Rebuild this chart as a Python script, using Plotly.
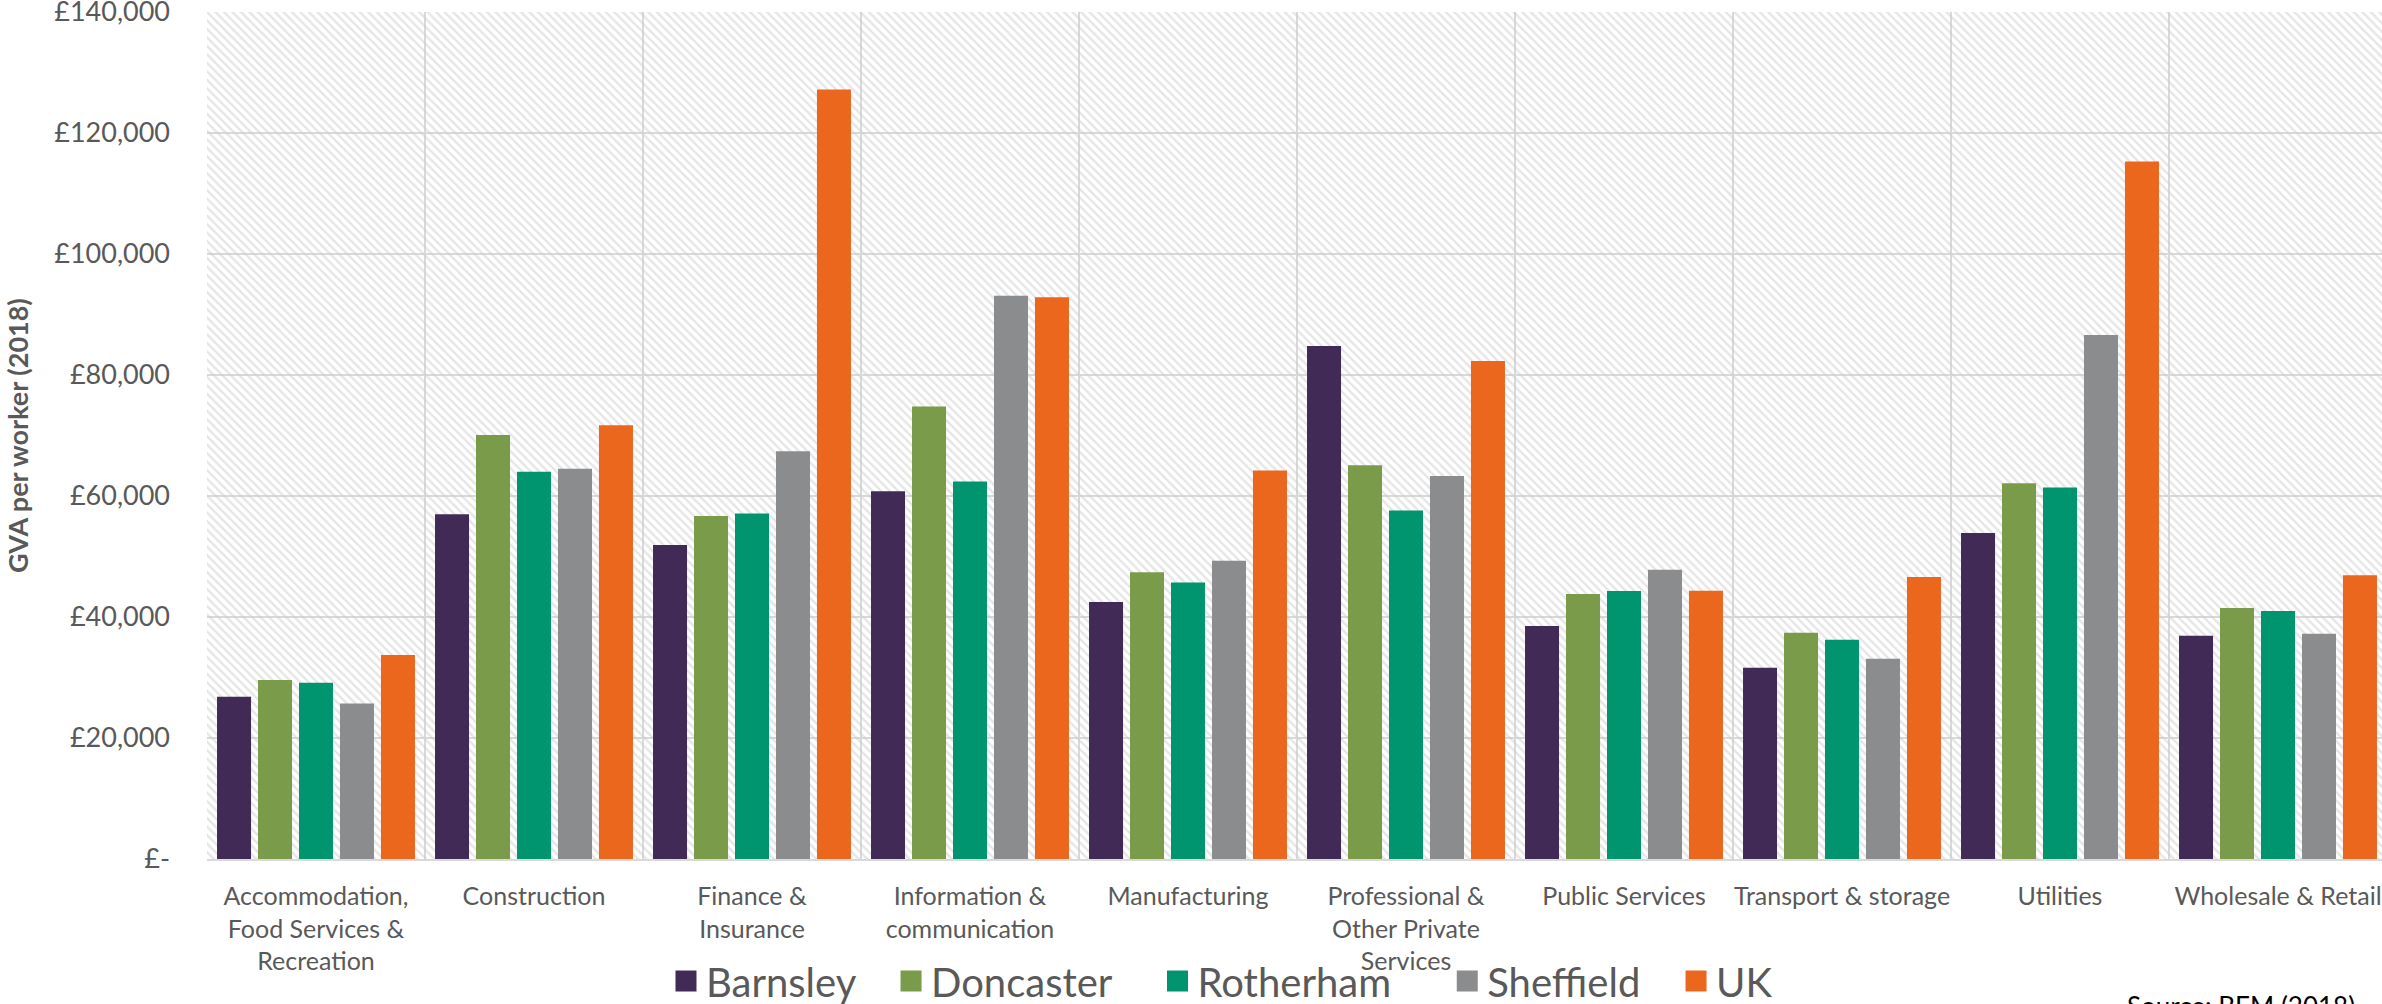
import plotly.graph_objects as go

categories = [
    "Accommodation,<br>Food Services &<br>Recreation",
    "Construction",
    "Finance &<br>Insurance",
    "Information &<br>communication",
    "Manufacturing",
    "Professional &<br>Other Private<br>Services",
    "Public Services",
    "Transport & storage",
    "Utilities",
    "Wholesale & Retail",
]

barnsley = [26800, 57000, 51900, 60800, 42500, 84800, 38500, 31600, 53900, 36900]
doncaster = [29600, 70100, 56700, 74800, 47400, 65100, 43800, 37400, 62100, 41500]
rotherham = [29150, 64000, 57100, 62400, 45700, 57600, 44300, 36250, 61400, 41000]
sheffield = [25700, 64500, 67400, 93100, 49300, 63300, 47800, 33100, 86600, 37250]
uk = [33700, 71700, 127200, 92850, 64200, 82300, 44350, 46600, 115300, 46900]

series_names = ["Barnsley", "Doncaster", "Rotherham", "Sheffield", "UK"]
series_values = [barnsley, doncaster, rotherham, sheffield, uk]
series_colors = ["#412A55", "#7A9B4A", "#00956F", "#8A8C8D", "#EB671E"]

y_tickvals = [0, 20000, 40000, 60000, 80000, 100000, 120000, 140000]
y_ticktext = ["£-", "£20,000", "£40,000", "£60,000", "£80,000", "£100,000", "£120,000", "£140,000"]

W, H = 2382, 1004
L, R, T, B = 207, 0, 12, 145
plot_w = W - L - R
plot_h = H - T - B
cat_px = 218.0

fig = go.Figure()

# hatched plot background (main subplot, below the data subplot)
fig.add_trace(go.Bar(
    x=[0.5], y=[y_tickvals[-1]], width=[1], xaxis="x", yaxis="y",
    marker=dict(color="rgba(0,0,0,0)", line=dict(width=0),
                pattern=dict(shape="\\", fgcolor="#cccccc", bgcolor="rgba(0,0,0,0)",
                             size=6, solidity=0.4)),
    showlegend=False, hoverinfo="skip",
))

for name, vals, col in zip(series_names, series_values, series_colors):
    fig.add_trace(go.Bar(
        x=categories, y=vals, name=name, xaxis="x2", yaxis="y",
        marker=dict(color=col, line=dict(width=0)),
        showlegend=False,
    ))

# legend entries (trailing no-break spaces set the gap between entries)
legend_pad = [3, 4, 5, 3, 0]
for name, col, npad in zip(series_names, series_colors, legend_pad):
    fig.add_trace(go.Scatter(
        x=[None], y=[None], name=name + "\u00a0" * npad, mode="markers",
        xaxis="x2", yaxis="y",
        marker=dict(symbol="square", size=16, color=col, line=dict(color=col, width=5)),
        showlegend=True,
    ))

font_family = "Lato"
grid_col = "#d9d9d9"
txt_col = "#595959"

n_vis = plot_w / cat_px

fig.update_layout(
    width=W, height=H,
    margin=dict(l=L, r=R, t=T, b=B, autoexpand=False),
    paper_bgcolor="white", plot_bgcolor="white",
    barmode="group", bargap=0.06, bargroupgap=0.17,
    font=dict(family=font_family, color=txt_col),
    xaxis=dict(range=[0, 1], visible=False, fixedrange=True),
    xaxis2=dict(
        type="category", overlaying="x", anchor="y", side="bottom",
        categoryorder="array", categoryarray=categories,
        range=[-0.5, -0.5 + n_vis],
        tickson="boundaries", showgrid=True, gridcolor=grid_col, gridwidth=2,
        ticks="", showline=True, linecolor=grid_col, linewidth=2,
        tickfont=dict(family=font_family, size=25, color=txt_col),
        ticklabelstandoff=14, tickangle=0,
    ),
    yaxis=dict(
        range=[0, 140000], tickvals=y_tickvals, ticktext=y_ticktext,
        showgrid=True, gridcolor=grid_col, gridwidth=2, zeroline=False,
        showline=False, ticks="",
        tickfont=dict(family=font_family, size=27, color=txt_col),
        ticklabelstandoff=36, ticklabeloverflow="allow",
    ),
    legend=dict(
        orientation="h", x=(666 - L) / plot_w, xanchor="left",
        y=-(981 - (T + plot_h)) / plot_h, yanchor="middle",
        font=dict(family=font_family, size=40, color=txt_col),
        bgcolor="rgba(0,0,0,0)", itemsizing="trace",
    ),
    annotations=[
        dict(text="<b>GVA per worker (2018)</b>", textangle=-90,
             xref="paper", yref="paper", x=(17.5 - L) / plot_w, y=0.5,
             xanchor="center", yanchor="middle", showarrow=False,
             font=dict(family=font_family, size=27, color=txt_col)),
        dict(text="Source: BEM (2018)", xref="paper", yref="paper",
             x=(2357 - L) / plot_w, y=-(988 - (T + plot_h)) / plot_h,
             xanchor="right", yanchor="top", showarrow=False,
             font=dict(family=font_family, size=26, color="#000000")),
    ],
)

fig.write_html("out.html")
